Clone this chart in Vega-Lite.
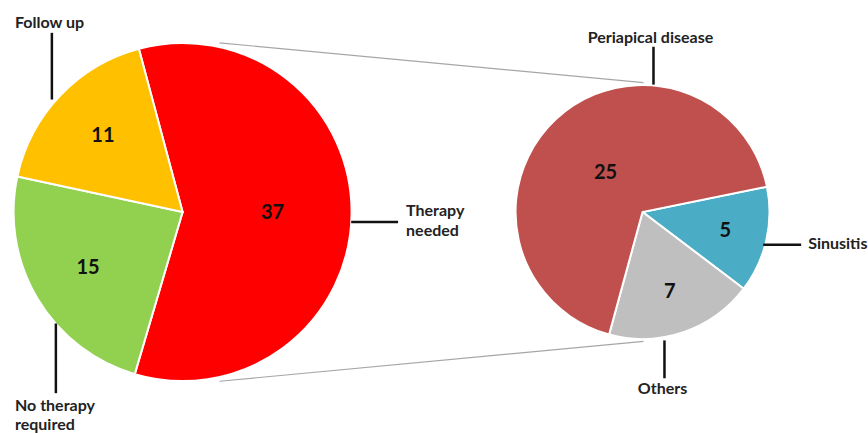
{
  "$schema": "https://vega.github.io/schema/vega-lite/v6.json",
  "width": 868,
  "height": 433,
  "autosize": {"type": "fit", "contains": "padding"},
  "padding": 0,
  "background": "white",
  "config": {"view": {"stroke": null}, "font": "Lato"},
  "datasets": {
    "main": [
      {"category": "Therapy needed", "value": 37, "seq": 1},
      {"category": "No therapy required", "value": 15, "seq": 2},
      {"category": "Follow up", "value": 11, "seq": 3}
    ],
    "sub": [
      {"category": "Sinusitis", "value": 5, "seq": 1},
      {"category": "Others", "value": 7, "seq": 2},
      {"category": "Periapical disease", "value": 25, "seq": 3}
    ],
    "connectors": [
      {"x": 220, "y": 43, "x2": 645, "y2": 83},
      {"x": 220, "y": 383, "x2": 645, "y2": 343}
    ],
    "leaders": [
      {"x": 52, "y": 33, "x2": 52, "y2": 100},
      {"x": 56, "y": 325, "x2": 56, "y2": 395},
      {"x": 352, "y": 223, "x2": 399, "y2": 223},
      {"x": 655, "y": 47, "x2": 655, "y2": 85},
      {"x": 765, "y": 246, "x2": 803, "y2": 246},
      {"x": 666, "y": 342, "x2": 666, "y2": 380}
    ],
    "leftLabels": [
      {"text": "Follow up", "x": 15, "y": 23},
      {"text": "No therapy", "x": 15, "y": 408},
      {"text": "required", "x": 15, "y": 427},
      {"text": "Therapy", "x": 407, "y": 212},
      {"text": "needed", "x": 407, "y": 232},
      {"text": "Sinusitis", "x": 810, "y": 245}
    ],
    "centerLabels": [
      {"text": "Periapical disease", "x": 652, "y": 38},
      {"text": "Others", "x": 664, "y": 391}
    ]
  },
  "layer": [
    {
      "data": {"name": "connectors"},
      "mark": {"type": "rule", "color": "#A6A6A6", "strokeWidth": 1.2},
      "encoding": {
        "x": {"field": "x", "type": "quantitative", "scale": {"domain": [0, 868], "nice": false, "zero": false}, "axis": null},
        "y": {"field": "y", "type": "quantitative", "scale": {"domain": [0, 433], "nice": false, "zero": false, "reverse": true}, "axis": null},
        "x2": {"field": "x2"},
        "y2": {"field": "y2"}
      }
    },
    {
      "data": {"name": "main"},
      "encoding": {
        "x": {"datum": 183, "type": "quantitative", "scale": {"domain": [0, 868], "nice": false, "zero": false}, "axis": null},
        "y": {"datum": 213, "type": "quantitative", "scale": {"domain": [0, 433], "nice": false, "zero": false, "reverse": true}, "axis": null},
        "theta": {"field": "value", "type": "quantitative", "stack": true, "scale": {"range": [-0.2618, 6.0214]}},
        "order": {"field": "seq", "type": "quantitative"}
      },
      "layer": [
        {
          "mark": {"type": "arc", "outerRadius": 169, "stroke": "white", "strokeWidth": 2},
          "encoding": {
            "color": {
              "field": "category", "type": "nominal", "legend": null,
              "scale": {
                "domain": ["Therapy needed", "No therapy required", "Follow up", "Sinusitis", "Others", "Periapical disease"],
                "range": ["#FF0000", "#92D050", "#FFC000", "#4BACC6", "#BFBFBF", "#C0504D"]
              }
            }
          }
        },
        {
          "mark": {"type": "text", "radius": 90, "font": "Lato", "fontWeight": "bold", "fontSize": 20, "color": "#111111", "baseline": "middle", "align": "center"},
          "encoding": {
            "detail": {"field": "category"},
            "text": {"condition": {"test": "datum.category === 'Therapy needed'", "field": "value", "type": "quantitative"}, "value": ""}
          }
        },
        {
          "mark": {"type": "text", "radius": 110, "font": "Lato", "fontWeight": "bold", "fontSize": 20, "color": "#111111", "baseline": "middle", "align": "center"},
          "encoding": {
            "detail": {"field": "category"},
            "text": {"condition": {"test": "datum.category !== 'Therapy needed'", "field": "value", "type": "quantitative"}, "value": ""}
          }
        }
      ]
    },
    {
      "data": {"name": "sub"},
      "encoding": {
        "x": {"datum": 644, "type": "quantitative", "scale": {"domain": [0, 868], "nice": false, "zero": false}, "axis": null},
        "y": {"datum": 213, "type": "quantitative", "scale": {"domain": [0, 433], "nice": false, "zero": false, "reverse": true}, "axis": null},
        "theta": {"field": "value", "type": "quantitative", "stack": true, "scale": {"range": [1.370, 7.653]}},
        "order": {"field": "seq", "type": "quantitative"}
      },
      "layer": [
        {
          "mark": {"type": "arc", "outerRadius": 127, "stroke": "white", "strokeWidth": 2},
          "encoding": {
            "color": {
              "field": "category", "type": "nominal", "legend": null,
              "scale": {
                "domain": ["Therapy needed", "No therapy required", "Follow up", "Sinusitis", "Others", "Periapical disease"],
                "range": ["#FF0000", "#92D050", "#FFC000", "#4BACC6", "#BFBFBF", "#C0504D"]
              }
            }
          }
        },
        {
          "mark": {"type": "text", "radius": 54, "font": "Lato", "fontWeight": "bold", "fontSize": 20, "color": "#111111", "baseline": "middle", "align": "center"},
          "encoding": {
            "detail": {"field": "category"},
            "text": {"condition": {"test": "datum.category === 'Periapical disease'", "field": "value", "type": "quantitative"}, "value": ""}
          }
        },
        {
          "mark": {"type": "text", "radius": 85, "font": "Lato", "fontWeight": "bold", "fontSize": 20, "color": "#111111", "baseline": "middle", "align": "center"},
          "encoding": {
            "detail": {"field": "category"},
            "text": {"condition": {"test": "datum.category !== 'Periapical disease'", "field": "value", "type": "quantitative"}, "value": ""}
          }
        }
      ]
    },
    {
      "data": {"name": "leaders"},
      "mark": {"type": "rule", "color": "#111111", "strokeWidth": 2.5},
      "encoding": {
        "x": {"field": "x", "type": "quantitative", "scale": {"domain": [0, 868], "nice": false, "zero": false}, "axis": null},
        "y": {"field": "y", "type": "quantitative", "scale": {"domain": [0, 433], "nice": false, "zero": false, "reverse": true}, "axis": null},
        "x2": {"field": "x2"},
        "y2": {"field": "y2"}
      }
    },
    {
      "data": {"name": "leftLabels"},
      "mark": {"type": "text", "align": "left", "baseline": "middle", "font": "Lato", "fontWeight": "bold", "fontSize": 16, "color": "#222222"},
      "encoding": {
        "x": {"field": "x", "type": "quantitative", "scale": {"domain": [0, 868], "nice": false, "zero": false}, "axis": null},
        "y": {"field": "y", "type": "quantitative", "scale": {"domain": [0, 433], "nice": false, "zero": false, "reverse": true}, "axis": null},
        "text": {"field": "text"}
      }
    },
    {
      "data": {"name": "centerLabels"},
      "mark": {"type": "text", "align": "center", "baseline": "middle", "font": "Lato", "fontWeight": "bold", "fontSize": 16, "color": "#222222"},
      "encoding": {
        "x": {"field": "x", "type": "quantitative", "scale": {"domain": [0, 868], "nice": false, "zero": false}, "axis": null},
        "y": {"field": "y", "type": "quantitative", "scale": {"domain": [0, 433], "nice": false, "zero": false, "reverse": true}, "axis": null},
        "text": {"field": "text"}
      }
    }
  ],
  "resolve": {"scale": {"theta": "independent"}}
}
